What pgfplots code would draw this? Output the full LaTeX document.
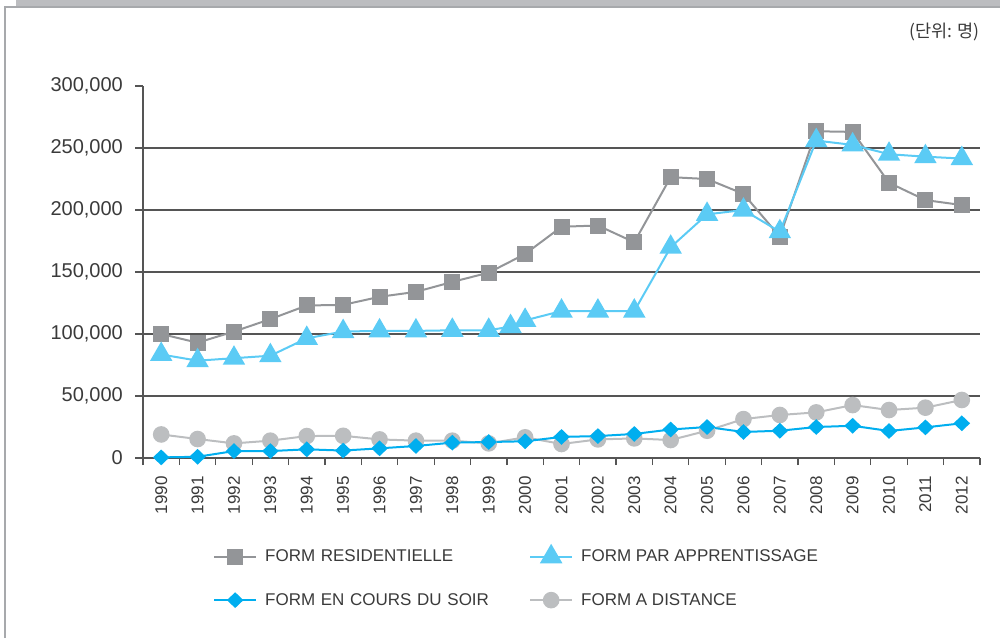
\documentclass[border=0pt]{standalone}
\usepackage{pgfplots}
\pgfplotsset{compat=1.18}
\usepackage{fontspec}
\setmainfont{Liberation Sans}
\newfontfamily\cjk{Noto Sans CJK KR}
\definecolor{sqgray}{HTML}{939598}
\definecolor{tri}{HTML}{5BCBF5}
\definecolor{dia}{HTML}{00AEEF}
\definecolor{circ}{HTML}{BCBEC0}
\definecolor{txt}{HTML}{3A3A3A}
\definecolor{gridc}{HTML}{555555}
\definecolor{barcol}{HTML}{BCBDC0}
\definecolor{framecol}{HTML}{A7A9AC}
\begin{document}
\begin{tikzpicture}
\useasboundingbox (0pt,0pt) rectangle (1003pt,-638pt);
\fill[barcol] (16pt,0pt) rectangle (1000pt,-7pt);
\draw[framecol, line width=1.2pt] (5pt,-638pt) -- (5pt,-7pt) -- (1000pt,-7pt);
\node[anchor=east, text=txt, font=\cjk\fontsize{17.5}{17.5}\selectfont] at (983pt,-32pt) {(단위: 명)};
\begin{axis}[
  at={(143pt,-458pt)}, anchor=south west,
  width=837pt, height=372pt, scale only axis,
  clip=false,
  xmin=1989.5, xmax=2012.5, ymin=0, ymax=300000,
  axis lines=left,
  axis line style={gridc, line width=1.2pt, -},
  tick align=outside,
  tick style={gridc, line width=1.2pt},
  major tick length=8pt,
  minor tick length=7pt,
  xtick={1990,...,2012},
  major x tick style={draw=none},
  minor xtick={1989.5,1990.5,...,2012.5},
  xticklabel style={rotate=90, anchor=east, inner sep=0pt, xshift=-10pt, text=txt, font=\fontsize{17}{17}\selectfont},
  ytick={0,50000,...,300000},
  yticklabel style={inner sep=0pt, xshift=-12pt, text=txt, font=\fontsize{20}{20}\selectfont},
  scaled ticks=false,
  /pgf/number format/fixed,
  /pgf/number format/precision=0,
  /pgf/number format/1000 sep={,},
  /pgf/number format/assume math mode=true,
  x tick label style={/pgf/number format/1000 sep={}},
  extra y ticks={50000,100000,150000,200000,250000},
  extra y tick labels={},
  extra y tick style={grid=major, major tick length=0pt},
  grid style={gridc, line width=1.1pt},
  legend columns=2,
  legend cell align=left,
  legend style={draw=none, fill=none, at={(axis description cs:0.08,-0.23)}, anchor=north west,
    font=\fontsize{17}{17}\selectfont, text=txt, row sep=26pt,
    /tikz/column 1/.style={column sep=6pt},
    /tikz/column 2/.style={text width=262pt},
    /tikz/column 3/.style={column sep=6pt}},
  legend image code/.code={\draw[mark repeat=2,mark phase=2,#1] plot coordinates {(0pt,0pt) (21pt,0pt) (42pt,0pt)};},
]
% circles first so they lie beneath the others
\addplot[circ, line width=2pt, mark=*, mark size=7.3pt, mark options={draw=none, fill=circ}, forget plot] coordinates {
(1990,19000) (1991,15300) (1992,11800) (1993,14000) (1994,17700) (1995,17900) (1996,15000) (1997,14000) (1998,14000) (1999,11800) (2000,16700) (2001,11300) (2002,15000) (2003,15800) (2004,14500) (2005,22000) (2006,31400) (2007,34700) (2008,36800) (2009,42700) (2010,38700) (2011,40600) (2012,46800)};
\addplot[sqgray, line width=2pt, mark=square*, mark size=7pt, mark options={draw=none, fill=sqgray}] coordinates {
(1990,100000) (1991,93000) (1992,102000) (1993,112000) (1994,123000) (1995,123500) (1996,130000) (1997,134000) (1998,142000) (1999,149500) (2000,164500) (2001,186500) (2002,187500) (2003,174000) (2004,226500) (2005,225000) (2006,213000) (2007,178500) (2008,263500) (2009,263000) (2010,222000) (2011,208000) (2012,204000)};
\addlegendentry{FORM RESIDENTIELLE}
\addplot[tri, line width=2pt, mark=triangle*, mark size=11pt, mark options={draw=none, fill=tri}] coordinates {
(1990,83500) (1991,78500) (1992,80500) (1993,82500) (1994,96500) (1995,102000) (1996,102500) (1997,102500) (1998,103000) (1999,103000) (1999.6,106000) (2000,111000) (2001,118500) (2002,118500) (2003,118500) (2004,170000) (2005,196500) (2006,200000) (2007,182500) (2008,256000) (2009,252500) (2010,245000) (2011,243000) (2012,241500)};
\addlegendentry{FORM PAR APPRENTISSAGE}
\addplot[dia, line width=2pt, mark=diamond*, mark size=6.5pt, mark options={draw=none, fill=dia, xscale=1.4}] coordinates {
(1990,500) (1991,1000) (1992,5600) (1993,5600) (1994,7000) (1995,6000) (1996,7800) (1997,9700) (1998,12400) (1999,12900) (2000,13500) (2001,17000) (2002,17700) (2003,19400) (2004,23000) (2005,25000) (2006,21000) (2007,22000) (2008,25000) (2009,26000) (2010,21800) (2011,24700) (2012,28000)};
\addlegendentry{FORM EN COURS DU SOIR}
\addlegendimage{circ, line width=2pt, mark=*, mark size=7.3pt, mark options={draw=none, fill=circ}}
\addlegendentry{FORM A DISTANCE}
\end{axis}
\end{tikzpicture}
\end{document}
